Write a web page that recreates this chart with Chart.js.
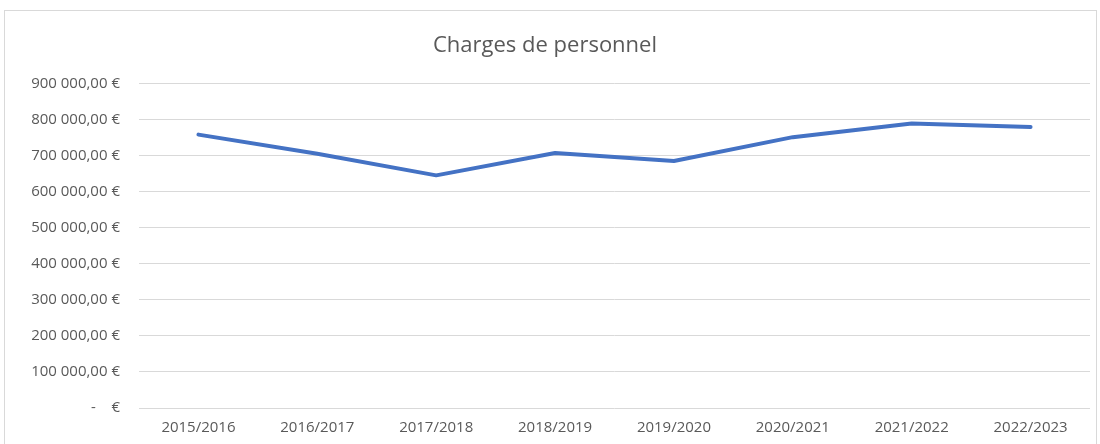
<!DOCTYPE html>
<html>
<head>
<meta charset="utf-8">
<script src="https://cdn.jsdelivr.net/npm/chart.js@4"></script>
<style>
  html, body { margin: 0; padding: 0; background: #fff; }
  #wrap { width: 1100px; height: 444px; }
</style>
</head>
<body>
<div id="wrap"><canvas id="chargesChart" width="1100" height="444"></canvas></div>
<script>
var years = ["2015/2016", "2016/2017", "2017/2018", "2018/2019", "2019/2020", "2020/2021", "2021/2022", "2022/2023"];
var charges = [758000, 705000, 645000, 707000, 685000, 751000, 789000, 779000];
var yTicks = [0, 100000, 200000, 300000, 400000, 500000, 600000, 700000, 800000, 900000];

var fontFamily = "'Open Sans', 'Liberation Sans', Arial, sans-serif";

function euro(v) {
   if (v === 0) return "-    €";
   var s = Math.round(v).toString().replace(/\B(?=(\d{3})+(?!\d))/g, " ");
   return s + ",00 €";
}

// frame around the chart, like the spreadsheet chart box
var frame = {
   id: "frame",
   beforeDraw: function (chart) {
      var c = chart.ctx;
      c.save();
      c.fillStyle = "#fff";
      c.fillRect(0, 0, chart.width, chart.height);
      c.strokeStyle = "#d9d9d9";
      c.lineWidth = 1;
      c.strokeRect(4.5, 10.5, 1092, 460);
      c.restore();
   }
};

var ctx = document.getElementById("chargesChart").getContext("2d");
var chart = new Chart(ctx, {
   type: "line",
   data: {
      labels: years,
      datasets: [
         {
            label: "Charges de personnel",
            data: charges,
            borderColor: "#4472C4",
            backgroundColor: "#4472C4",
            borderWidth: 4,
            pointRadius: 0,
            tension: 0,
            borderCapStyle: "round",
            borderJoinStyle: "round"
         }
      ]
   },
   options: {
      responsive: false,
      animation: false,
      layout: { padding: { left: 0, right: 10, top: 33, bottom: -4 } },
      plugins: {
         legend: { display: false },
         tooltip: { enabled: false },
         title: {
            display: true,
            text: "Charges de personnel",
            color: "#595959",
            font: { family: fontFamily, size: 22, weight: "normal" },
            padding: { top: 0, bottom: 24 }
         }
      },
      scales: {
         x: {
            offset: true,
            grid: { display: false, drawTicks: false },
            border: { display: false },
            ticks: {
               color: "#595959",
               font: { family: fontFamily, size: 15 },
               padding: 11,
               maxRotation: 0
            }
         },
         y: {
            min: 0,
            max: 900000,
            afterBuildTicks: function (scale) {
               scale.ticks = yTicks.map(function (v) { return { value: v }; });
            },
            afterFit: function (scale) { scale.width = 139; },
            grid: { color: "#d9d9d9", lineWidth: 1, drawTicks: false },
            border: { display: false },
            ticks: {
               color: "#595959",
               font: { family: fontFamily, size: 15 },
               padding: 19,
               callback: function (v) { return euro(v); }
            }
         }
      }
   },
   plugins: [frame]
});
</script>
</body>
</html>
